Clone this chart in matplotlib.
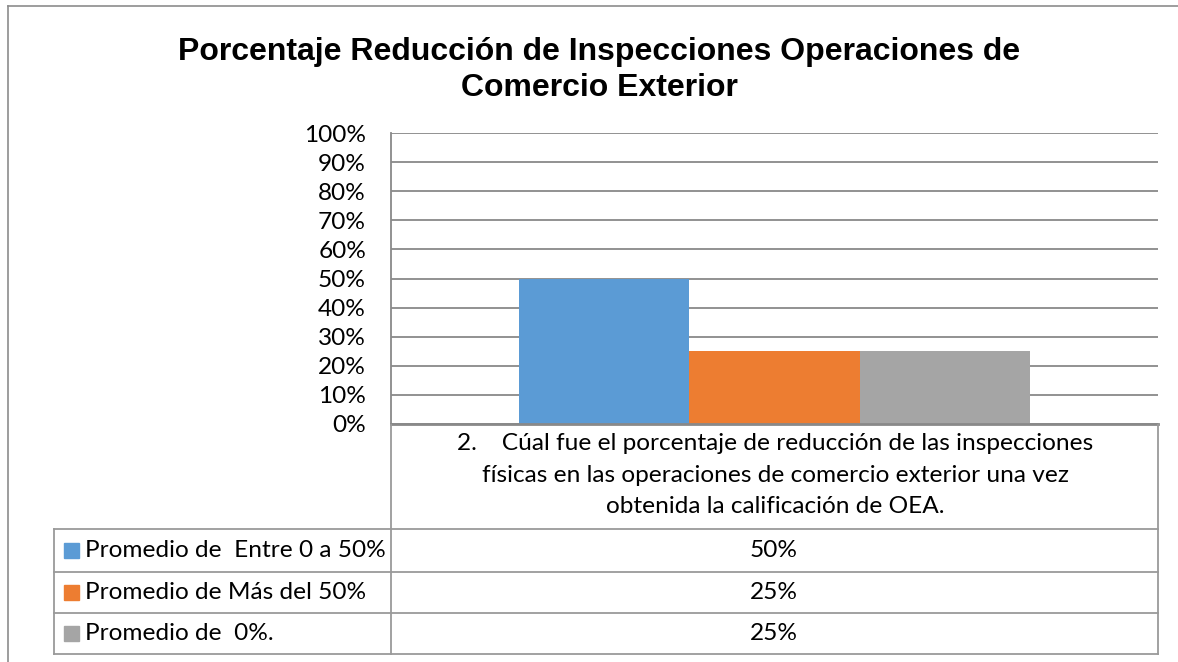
import matplotlib.pyplot as plt
from matplotlib.lines import Line2D
from matplotlib.patches import Rectangle

W, H = 1178, 662

title = "Porcentaje Reducción de Inspecciones Operaciones de\nComercio Exterior"
category = ("2.    Cúal fue el porcentaje de reducción de las inspecciones\n"
            "físicas en las operaciones de comercio exterior una vez\n"
            "obtenida la calificación de OEA.")
series = ["Promedio de  Entre 0 a 50%", "Promedio de Más del 50%", "Promedio de  0%."]
values = [0.50, 0.25, 0.25]
value_labels = ["50%", "25%", "25%"]
colors = ["#5B9BD5", "#ED7D31", "#A5A5A5"]
yticks = [i / 10 for i in range(11)]

font = "Lato"
grid_c = "#898989"
fs = 17.6

fig = plt.figure(figsize=(W / 100, H / 100), dpi=100)

def px(x0, y0, x1, y1):
    return [x0 / W, 1 - y1 / H, (x1 - x0) / W, (y1 - y0) / H]

# outer frame (left and top only visible)
fig.add_artist(Line2D([8 / W, 8 / W], [0, 1 - 6 / H], color="#8c8c8c", lw=1.2))
fig.add_artist(Line2D([8 / W, 1], [1 - 6 / H, 1 - 6 / H], color="#8c8c8c", lw=1.2))

fig.text(599 / W, 1 - 70 / H, title, ha="center", va="center", fontsize=23,
         fontweight="bold", family="Liberation Sans", linespacing=1.22)

# bar chart area
ax = fig.add_axes(px(391, 133, 1158, 424))
n = len(values)
bw = 0.6675 / n
for i, (v, c) in enumerate(zip(values, colors)):
    ax.bar((i - (n - 1) / 2) * bw, v, width=bw, color=c, zorder=2)
ax.set_xlim(-0.5, 0.5)
ax.set_ylim(0, 1)
ax.set_yticks(yticks)
ax.set_yticklabels([f"{int(round(t * 100))}%" for t in yticks], fontsize=fs, family=font)
ax.tick_params(axis="y", length=0, pad=18)
ax.set_xticks([])
ax.yaxis.grid(True, color=grid_c, lw=1.3, zorder=0)
for s in ["top", "right"]:
    ax.spines[s].set_visible(False)
ax.spines["left"].set_color(grid_c)
ax.spines["left"].set_linewidth(1.3)
ax.spines["bottom"].set_color(grid_c)
ax.spines["bottom"].set_linewidth(2)

# data table
tx = fig.add_axes(px(0, 424, W, 662))
tx.set_xlim(0, W)
tx.set_ylim(662, 424)
tx.axis("off")
lc = "#9a9a9a"
rows = [529, 572, 613, 654]
tx.plot([391, 391], [424, 654], color=lc, lw=1.3)
tx.plot([1158, 1158], [424, 654], color=lc, lw=1.3)
tx.plot([54, 54], [529, 654], color=lc, lw=1.3)
for y in rows:
    tx.plot([54, 1158], [y, y], color=lc, lw=1.3)
tx.text(775, 475, category, ha="center", va="center", fontsize=fs, family=font,
        linespacing=1.59)
for i in range(n):
    yc = (rows[i] + rows[i + 1]) / 2
    tx.add_patch(Rectangle((64, yc - 7.5), 15, 15, color=colors[i]))
    tx.text(85, yc, series[i], ha="left", va="center", fontsize=fs, family=font)
    tx.text(774, yc, value_labels[i], ha="center", va="center", fontsize=fs, family=font)

fig.savefig("out.png", dpi=100)
